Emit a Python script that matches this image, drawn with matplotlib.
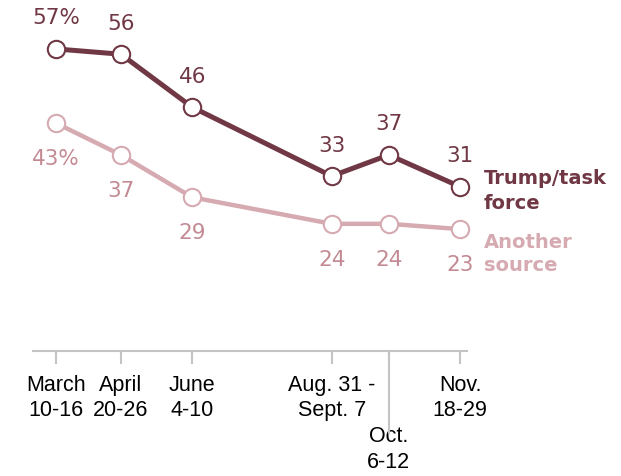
import matplotlib.pyplot as plt

# survey waves (midpoint day of year, 2020) and their labels
wave_days = [73, 114, 159, 247, 283, 328]
wave_labels = ["March\n10-16", "April\n20-26", "June\n4-10",
               "Aug. 31 -\nSept. 7", "\n\nOct.\n6-12", "Nov.\n18-29"]

trump = [57, 56, 46, 33, 37, 31]
another = [43, 37, 29, 24, 24, 23]
trump_text = ["57%", "56", "46", "33", "37", "31"]
another_text = ["43%", "37", "29", "24", "24", "23"]

dark = "#703844"
light = "#D6AAB1"
light_txt = "#C38A93"
grey = "#C4C4C4"

fig = plt.figure(figsize=(6.21, 4.76), dpi=100)
ax = fig.add_axes([0.0531, 0.2626, 0.699, 0.668])

ax.plot(wave_days, another, color=light, lw=3.2, marker="o", ms=12.5,
        mfc="white", mec=light, mew=1.5, zorder=3, clip_on=False)
ax.plot(wave_days, trump, color=dark, lw=3.6, marker="o", ms=12.5,
        mfc="white", mec=dark, mew=1.5, zorder=4, clip_on=False)

for x, y, t in zip(wave_days, trump, trump_text):
    ax.annotate(t, (x, y), xytext=(0, 22), textcoords="offset points",
                ha="center", va="center", color=dark, fontsize=15.5,
                family="DejaVu Sans")
for x, y, t in zip(wave_days, another, another_text):
    ax.annotate(t, (x, y), xytext=(0, -26), textcoords="offset points",
                ha="center", va="center", color=light_txt, fontsize=15.5,
                family="DejaVu Sans")

# series labels right of the last point
ax.annotate("Trump/task\nforce", (wave_days[-1], trump[-1]), xytext=(17, -3),
            textcoords="offset points", ha="left", va="center", color=dark,
            fontsize=14, fontweight="bold", linespacing=1.35,
            family="DejaVu Sans", annotation_clip=False)
ax.annotate("Another\nsource", (wave_days[-1], another[-1]), xytext=(17, -18),
            textcoords="offset points", ha="left", va="center", color=light,
            fontsize=14, fontweight="bold", linespacing=1.3,
            family="DejaVu Sans", annotation_clip=False)

ax.set_xlim(58.5, 332.4)
ax.set_ylim(0, 60)

for s in ["top", "right", "left"]:
    ax.spines[s].set_visible(False)
ax.spines["bottom"].set_color(grey)
ax.spines["bottom"].set_linewidth(1.5)
ax.set_yticks([])

ax.set_xticks(wave_days)
ax.set_xticklabels(wave_labels, fontsize=15.5, family="Liberation Sans",
                   linespacing=1.3)
ax.tick_params(axis="x", length=9, width=1.5, color=grey, pad=8)

# longer tick for October wave
ax.plot([wave_days[4], wave_days[4]], [0, -15.5], color=grey, lw=1.5,
        clip_on=False)

fig.savefig("out.png", dpi=100)
